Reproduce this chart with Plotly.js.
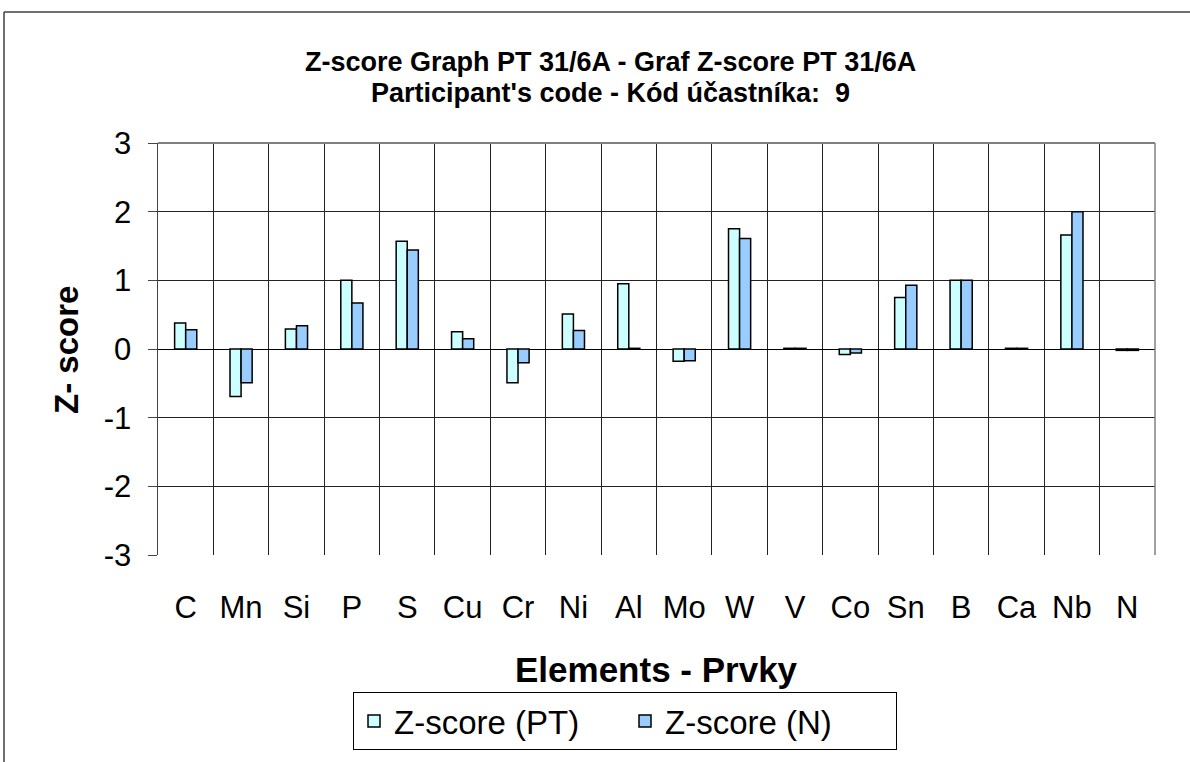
<!DOCTYPE html>
<html><head><meta charset="utf-8">
<script src="https://cdn.plot.ly/plotly-3.0.1.min.js"></script>
<style>html,body{margin:0;padding:0;background:#fff;}#chart{width:1190px;height:762px;}</style>
</head><body><div id="chart"></div>
<script>
const elements = ["C","Mn","Si","P","S","Cu","Cr","Ni","Al","Mo","W","V","Co","Sn","B","Ca","Nb","N"];
const zPT = [0.38,-0.69,0.29,1.0,1.57,0.25,-0.49,0.51,0.95,-0.18,1.75,0.01,-0.08,0.75,1.0,0.01,1.66,-0.02];
const zN  = [0.28,-0.49,0.34,0.67,1.44,0.15,-0.2,0.27,0.01,-0.17,1.61,0.01,-0.06,0.93,1.0,0.01,2.0,-0.02];
const yTicks = [-3,-2,-1,0,1,2,3];

const F = 'Arial, "Liberation Sans", sans-serif';
const L = 158, R = 1155, T = 143, B = 555, W = 1190, H = 762;
const px = x => (x - L) / (R - L);
const py = y => (B - y) / (B - T);

const traces = [
  {type:'bar', name:'Z-score (PT)', x:elements, y:zPT,
   marker:{color:'#CCFFFF', line:{color:'#000', width:1.5}}},
  {type:'bar', name:'Z-score (N)', x:elements, y:zN,
   marker:{color:'#99CCFF', line:{color:'#000', width:1.5}}}
];

const layout = {
  width:W, height:H,
  margin:{l:L, r:W-R, t:T, b:H-B},
  paper_bgcolor:'#fff', plot_bgcolor:'#fff',
  barmode:'group', bargap:0.6, bargroupgap:0,
  showlegend:true,
  font:{family:F, color:'#000'},
  xaxis:{type:'category', tickson:'boundaries', showgrid:true, gridcolor:'#222', gridwidth:1,
         ticks:'', tickfont:{size:31, family:F}, ticklabelstandoff:31,
         showline:false, mirror:false, zeroline:false, fixedrange:true},
  yaxis:{range:[-3,3], tickvals:yTicks, ticktext:yTicks.map(String),
         showgrid:true, gridcolor:'#222', gridwidth:1,
         zeroline:true, zerolinecolor:'#000', zerolinewidth:1,
         showline:true, linecolor:'#444', linewidth:1.5, ticks:'outside', ticklen:9, tickcolor:'#444',
         ticklabelstandoff:10,
         tickfont:{size:31, family:F}, fixedrange:true},
  legend:{orientation:'h', x:px(625), xanchor:'center', y:py(692), yanchor:'top',
          bordercolor:'#000', borderwidth:1, bgcolor:'#fff',
          font:{size:33, family:F}, entrywidth:226, entrywidthmode:'pixels', itemwidth:30, traceorder:'normal'},
  annotations:[
    {text:'<b>Z-score Graph PT 31/6A - Graf Z-score PT 31/6A</b>', xref:'paper', yref:'paper',
     x:px(610), y:py(62), xanchor:'center', yanchor:'middle', showarrow:false, font:{size:27, family:F}},
    {text:"<b>Participant's code - Kód účastníka:  9</b>", xref:'paper', yref:'paper',
     x:px(610), y:py(93), xanchor:'center', yanchor:'middle', showarrow:false, font:{size:27, family:F}},
    {text:'<b>Elements - Prvky</b>', xref:'paper', yref:'paper',
     x:px(656), y:py(669), xanchor:'center', yanchor:'middle', showarrow:false, font:{size:35, family:F}},
    {text:'<b>Z- score</b>', xref:'paper', yref:'paper', textangle:-90,
     x:px(66), y:py(350), xanchor:'center', yanchor:'middle', showarrow:false, font:{size:33, family:F}}
  ],
  shapes:[
    {type:'line', xref:'paper', yref:'paper', x0:1, x1:1, y0:0, y1:1, line:{color:'#808080', width:1.5}},
    {type:'line', xref:'paper', yref:'paper', x0:0, x1:1, y0:1, y1:1, line:{color:'#808080', width:2}},
    {type:'line', xref:'paper', yref:'paper', x0:px(4), x1:px(1192), y0:py(12), y1:py(12), line:{color:'#404040', width:1.5}},
    {type:'line', xref:'paper', yref:'paper', x0:px(4), x1:px(4), y0:py(12), y1:py(765), line:{color:'#404040', width:1.5}}
  ]
};
Plotly.newPlot('chart', traces, layout, {displayModeBar:false, staticPlot:true});
</script></body></html>
